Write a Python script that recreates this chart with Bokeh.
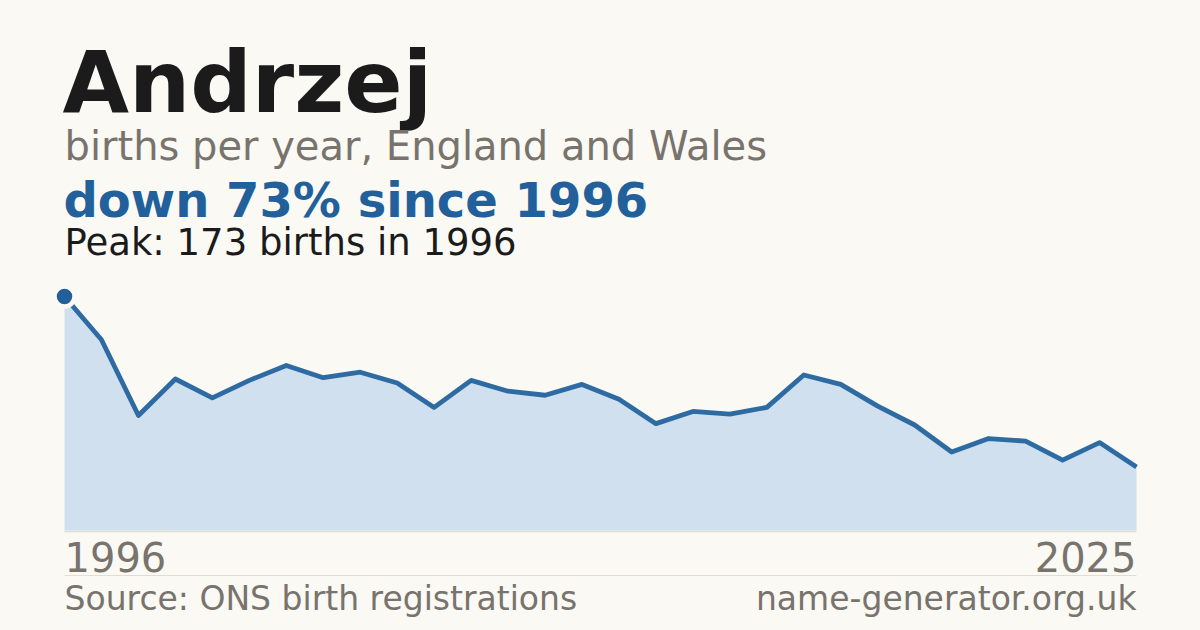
from bokeh.plotting import figure
from bokeh.models import Range1d
from bokeh.core.properties import value
from bokeh.embed import file_html
from bokeh.resources import INLINE

# ---- data ----
name = "Andrzej"
subtitle = "births per year, England and Wales"
headline = "down 73% since 1996"
peak_note = "Peak: 173 births in 1996"
source_note = "Source: ONS birth registrations"
site_note = "name-generator.org.uk"
years = list(range(1996, 2026))
births = [173, 141, 85, 112, 98, 111, 122, 113, 117, 109,
          91, 111, 103, 100, 108, 97, 79, 88, 86, 91,
          115, 108, 92, 78, 58, 68, 66, 52, 65, 47]
first_label = str(years[0])
last_label = str(years[-1])

# ---- styling / layout ----
BG = "#faf9f4"
DARK = "#1b1b1b"
GRAY = "#78736c"
BLUE = "#21609a"
LINE_BLUE = "#2e6ba3"
AREA = "#d0e0ef"
RULE = "#e0ddd5"
FONT = value("DejaVu Sans")

OFF = 0
W, H = 1200, 630
L, R, TOP, BASE = 64, 1136, 296, 530

p = figure(width=W, height=H, output_backend="svg", toolbar_location=None,
           x_range=Range1d(OFF, OFF + W), y_range=Range1d(OFF + H, OFF),
           x_axis_location=None, y_axis_location=None,
           min_border=0, border_fill_color=BG, background_fill_color=BG,
           outline_line_color=None)
p.grid.visible = False

# extra ranges mapping years/births into the chart box
ypx = (years[-1] - years[0]) / (R - L)
p.extra_x_ranges = {"yr": Range1d(years[0] - (L - OFF) * ypx,
                                  years[0] + (OFF + W - L) * ypx)}
peak = max(births)
bpx = peak / (BASE - TOP)
p.extra_y_ranges = {"b": Range1d((BASE - (OFF + H)) * bpx, (BASE - OFF) * bpx)}

# rules
p.line([L, R], [BASE + 1, BASE + 1], line_color=RULE, line_width=1.5)
p.line([L, R], [575, 575], line_color=RULE, line_width=1)

# chart
p.varea(x=years, y1=[0] * len(years), y2=births, x_range_name="yr", y_range_name="b",
        fill_color=AREA, fill_alpha=1.0)
p.line(years, births, x_range_name="yr", y_range_name="b",
       line_color=LINE_BLUE, line_width=4.8, line_join="round")
pi = births.index(peak)
p.scatter([years[pi]], [peak], x_range_name="yr", y_range_name="b",
          size=20, fill_color=BLUE, line_color=BG, line_width=4.5)

def txt(x, y, s, size, color, bold=False, align="left"):
    # y is the desired visual baseline; compensate for Bokeh's text box offset
    p.text(x=[x], y=[y - 0.37 * size], text=[s], text_font=FONT,
           text_font_size=value(f"{size}px"),
           text_color=color, text_align=align, text_baseline="alphabetic",
           text_font_style="bold" if bold else "normal")

txt(L - 2, 113, name, 86, DARK, bold=True)
txt(L, 160, subtitle, 40, GRAY)
txt(L - 1, 217, headline, 48, BLUE, bold=True)
txt(L, 256, peak_note, 37, DARK)
txt(L, 571, first_label, 40, GRAY)
txt(R, 571, last_label, 40, GRAY, align="right")
txt(L, 610, source_note, 33, GRAY)
txt(R, 610, site_note, 33, GRAY, align="right")

html = file_html(p, INLINE)
html = html.replace("<head>", "<head><style>body{background:%s}</style>" % BG, 1)
open("out.html", "w").write(html)
